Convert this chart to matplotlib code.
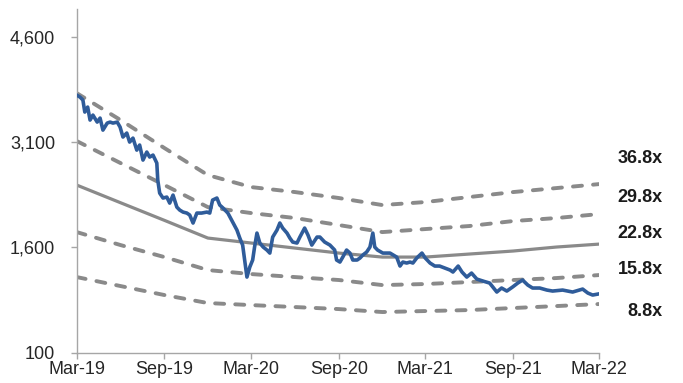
# P/E band chart: price vs 8.8x-36.8x forward multiples
import matplotlib
matplotlib.use("Agg")  # no display
import matplotlib.pyplot as plt
import pandas as pd

plt.rcParams['font.family'] = ['Liberation Sans', 'DejaVu Sans']
plt.rcParams['lines.scale_dashes'] = False

# share price
price_dates = [
    "2019-03-01", "2019-03-08", "2019-03-14", "2019-03-18", "2019-03-24", "2019-03-29",
    "2019-04-04", "2019-04-13", "2019-04-19", "2019-04-25", "2019-05-04", "2019-05-10",
    "2019-05-16", "2019-05-25", "2019-05-31", "2019-06-06", "2019-06-14", "2019-06-20",
    "2019-06-27", "2019-07-05", "2019-07-11", "2019-07-18", "2019-07-26", "2019-08-01",
    "2019-08-08", "2019-08-16", "2019-08-18", "2019-08-22", "2019-08-29", "2019-09-06",
    "2019-09-12", "2019-09-19", "2019-09-27", "2019-10-03", "2019-10-10", "2019-10-18",
    "2019-10-24", "2019-10-31", "2019-11-08", "2019-11-18", "2019-11-29", "2019-12-05",
    "2019-12-11", "2019-12-20", "2019-12-26", "2020-01-02", "2020-01-12", "2020-01-22",
    "2020-01-31", "2020-02-06", "2020-02-12", "2020-02-21", "2020-02-27", "2020-03-04",
    "2020-03-08", "2020-03-13", "2020-03-19", "2020-03-26", "2020-04-03", "2020-04-09",
    "2020-04-15", "2020-04-24", "2020-04-30", "2020-05-06", "2020-05-15", "2020-05-21",
    "2020-05-27", "2020-06-05", "2020-06-11", "2020-06-21", "2020-06-28", "2020-07-06",
    "2020-07-17", "2020-07-23", "2020-08-02", "2020-08-13", "2020-08-23", "2020-08-27",
    "2020-09-03", "2020-09-09", "2020-09-17", "2020-09-24", "2020-09-30", "2020-10-09",
    "2020-10-15", "2020-10-21", "2020-10-29", "2020-11-05", "2020-11-11", "2020-11-15",
    "2020-11-21", "2020-12-02", "2020-12-17", "2020-12-31", "2021-01-07", "2021-01-13",
    "2021-01-21", "2021-01-28", "2021-02-03", "2021-02-11", "2021-02-22", "2021-03-01",
    "2021-03-11", "2021-03-21", "2021-03-31", "2021-04-11", "2021-04-22", "2021-04-28",
    "2021-05-09", "2021-05-17", "2021-05-27", "2021-06-06", "2021-06-17", "2021-06-30",
    "2021-07-14", "2021-07-29", "2021-08-08", "2021-08-19", "2021-08-31", "2021-09-11",
    "2021-09-21", "2021-10-02", "2021-10-12", "2021-10-27", "2021-11-11", "2021-11-23",
    "2021-12-14", "2022-01-04", "2022-01-25", "2022-02-05", "2022-02-15", "2022-02-26",
]
price = [
    3771, 3742, 3700, 3529, 3600, 3415,
    3486, 3386, 3443, 3272, 3372, 3386,
    3372, 3386, 3315, 3173, 3230, 3101,
    3158, 2987, 3059, 2845, 2959, 2888,
    2916, 2802, 2560, 2375, 2304, 2318,
    2232, 2346, 2175, 2133, 2104, 2090,
    2062, 1948, 2090, 2090, 2104, 2090,
    2275, 2304, 2204, 2161, 2090, 1962,
    1848, 1734, 1634, 1178, 1321, 1421,
    1606, 1805, 1663, 1606, 1563, 1520,
    1748, 1848, 1948, 1876, 1805, 1734,
    1677, 1663, 1748, 1876, 1777, 1634,
    1748, 1748, 1677, 1634, 1563, 1421,
    1392, 1463, 1563, 1520, 1421, 1421,
    1449, 1492, 1534, 1606, 1805, 1606,
    1563, 1520, 1520, 1463, 1335, 1392,
    1378, 1392, 1378, 1449, 1520, 1449,
    1378, 1335, 1335, 1307, 1278, 1250,
    1335, 1250, 1178, 1235, 1150, 1121,
    1093, 965, 1022, 979, 1036, 1093,
    1136, 1064, 1022, 1022, 993, 979,
    993, 965, 1007, 950, 922, 936,
]

# P/E bands
band_dates = ["2019-03-01", "2019-06-01", "2019-09-01", "2019-12-01", "2020-03-01",
              "2020-06-01", "2020-09-01", "2020-12-01", "2021-03-01", "2021-06-01",
              "2021-09-01", "2021-12-01", "2022-03-01"]
band_labels = ["36.8x", "29.8x", "22.8x", "15.8x", "8.8x"]
band_368 = [3799, 3415, 3016, 2631, 2460, 2389, 2304, 2204, 2247, 2318, 2389, 2446, 2503]
band_298 = [3116, 2802, 2489, 2175, 2090, 2019, 1919, 1819, 1862, 1905, 1976, 2019, 2076]
band_228 = [2489, 2237, 1986, 1734, 1663, 1591, 1520, 1463, 1463, 1506, 1549, 1606, 1648]
band_158 = [1819, 1634, 1463, 1278, 1221, 1178, 1136, 1064, 1079, 1107, 1136, 1164, 1207]
band_88 = [1178, 1050, 922, 808, 779, 751, 722, 680, 694, 708, 737, 765, 794]

tick_dates = ["2019-03-01", "2019-09-01", "2020-03-01", "2020-09-01",
              "2021-03-01", "2021-09-01", "2022-03-01"]
tick_labels = ["Mar-19", "Sep-19", "Mar-20", "Sep-20", "Mar-21", "Sep-21", "Mar-22"]
y_ticks = [100, 1600, 3100, 4600]


def plot_pe_bands():
    fig = plt.figure(figsize=(6.83, 3.83), dpi=100)
    ax = fig.add_axes([0.1123, 0.079, 0.7652, 0.898])

    bd = pd.to_datetime(band_dates)
    grey = '#8a8a8a'
    bands = [band_368, band_298, band_228, band_158, band_88]
    for lbl, vals in zip(band_labels, bands):
        if lbl == "22.8x":
            ax.plot(bd, vals, color=grey, lw=2.3, solid_capstyle='round', zorder=2)
        else:
            ax.plot(bd, vals, color=grey, lw=2.8, dashes=(6.5, 8.0),
                    dash_capstyle='round', zorder=2)

    ax.plot(pd.to_datetime(price_dates), price, color='#2f5c9a', lw=2.6,
            solid_joinstyle='round', zorder=3)

    ax.set_xlim(pd.Timestamp(tick_dates[0]), pd.Timestamp(tick_dates[-1]))
    ax.set_ylim(100, 5000)
    ax.set_xticks(pd.to_datetime(tick_dates))
    ax.set_xticklabels(tick_labels)
    ax.set_yticks(y_ticks)
    ax.set_yticklabels(["{:,}".format(v) for v in y_ticks])

    for s in ['top', 'right']:
        ax.spines[s].set_visible(False)
    for s in ['left', 'bottom']:
        ax.spines[s].set_color('#a6a6a6')
        ax.spines[s].set_linewidth(1.0)
    ax.tick_params(axis='both', direction='out', length=4.5, width=1.0,
                   color='#a6a6a6', labelsize=13, labelcolor='#262626')
    ax.tick_params(axis='y', pad=11)
    ax.tick_params(axis='x', pad=1.5)

    # multiple labels on the right
    label_y = [158, 197, 233, 270, 312]
    for lbl, py in zip(band_labels, label_y):
        fig.text(663 / 683, 1 - py / 383, lbl, ha='right', va='center',
                 fontsize=13, fontweight='bold', color='#1a1a1a')

    plt.savefig("out.png")


plot_pe_bands()
